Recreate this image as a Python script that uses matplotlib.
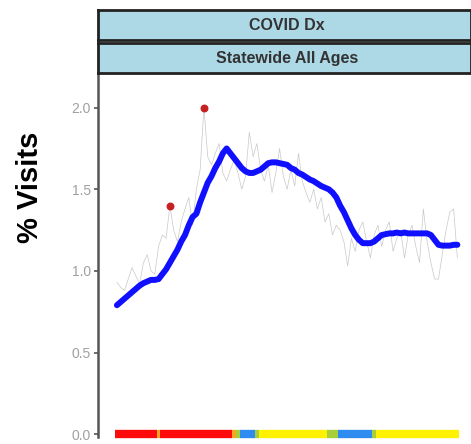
import matplotlib.pyplot as plt
from matplotlib.collections import LineCollection
import numpy as np

plt.rcParams['font.family'] = ['Liberation Sans', 'DejaVu Sans']

# daily share of ED visits with COVID diagnosis (%)
visitas = [0.93, 0.90, 0.88, 0.95, 1.02, 0.97, 0.92, 1.05, 1.10, 1.00,
           0.98, 1.15, 1.22, 1.20, 1.40, 1.25, 1.18, 1.30, 1.38, 1.45,
           1.28, 1.50, 1.62, 2.00, 1.70, 1.65, 1.72, 1.78, 1.60, 1.55,
           1.62, 1.68, 1.60, 1.50, 1.58, 1.85, 1.70, 1.78, 1.62, 1.55,
           1.65, 1.48, 1.60, 1.75, 1.58, 1.50, 1.62, 1.52, 1.72, 1.55,
           1.48, 1.42, 1.50, 1.38, 1.45, 1.30, 1.35, 1.22, 1.28, 1.25,
           1.18, 1.03, 1.20, 1.12, 1.25, 1.30, 1.18, 1.08, 1.22, 1.28,
           1.15, 1.25, 1.30, 1.12, 1.20, 1.25, 1.08, 1.22, 1.28, 1.15,
           1.05, 1.38, 1.18, 1.05, 0.95, 0.95, 1.10, 1.25, 1.36, 1.38,
           1.08]

# smoothed trend
tendencia = [0.79, 0.81, 0.83, 0.85, 0.87, 0.89, 0.91, 0.925, 0.935, 0.945,
             0.945, 0.95, 0.98, 1.01, 1.05, 1.09, 1.13, 1.18, 1.22, 1.28,
             1.33, 1.35, 1.42, 1.48, 1.54, 1.58, 1.63, 1.67, 1.72, 1.75,
             1.72, 1.69, 1.66, 1.63, 1.61, 1.60, 1.60, 1.61, 1.62, 1.64,
             1.66, 1.665, 1.665, 1.66, 1.655, 1.65, 1.63, 1.62, 1.60, 1.59,
             1.575, 1.56, 1.55, 1.535, 1.52, 1.51, 1.50, 1.48, 1.45, 1.40,
             1.36, 1.31, 1.26, 1.22, 1.19, 1.17, 1.17, 1.17, 1.18, 1.20,
             1.22, 1.225, 1.23, 1.23, 1.235, 1.23, 1.235, 1.23, 1.23, 1.23,
             1.23, 1.23, 1.23, 1.22, 1.19, 1.16, 1.155, 1.155, 1.155, 1.16,
             1.16]

# flagged days
alerta_dias = [14, 23]

# status colour per day along the bottom
status = (['red'] * 11 + ['orange'] + ['red'] * 19 + ['orange'] + ['green']
          + ['blue'] * 4 + ['green'] + ['yellow'] * 18 + ['green'] * 3
          + ['blue'] * 9 + ['green'] + ['yellow'] * 22)

cores = {'red': '#FF0A0A', 'orange': '#F5A623', 'yellow': '#FFF200',
         'blue': '#2E8BF0', 'green': '#A8CF3A'}

dias = np.arange(len(visitas))

W, H = 471, 444
fig = plt.figure(figsize=(W / 100, H / 100), dpi=100)

ax = fig.add_axes([98 / W, 0, 1 - 98 / W, (H - 75) / H])
ax.plot(dias, visitas, color='#C8C8C8', linewidth=0.5, zorder=1)
ax.plot(dias, tendencia, color='#1010FF', linewidth=4.3,
        solid_capstyle='round', zorder=2)
ax.scatter([dias[d] for d in alerta_dias], [visitas[d] for d in alerta_dias],
           s=22, color='#C62020', zorder=3)

# status band at y = 0
segs = [[(d - 0.5, 0), (d + 0.5, 0)] for d in dias]
lc = LineCollection(segs, colors=[cores[s] for s in status], linewidths=6,
                    capstyle='butt', zorder=2)
ax.add_collection(lc)

ax.set_xlim(-5.0, 93.6)
ax.set_ylim(-0.06, 2.2)
ax.set_yticks([0.0, 0.5, 1.0, 1.5, 2.0])
ax.set_yticklabels(['0.0', '0.5', '1.0', '1.5', '2.0'])
ax.set_xticks([])
for lado in ['top', 'right', 'bottom']:
    ax.spines[lado].set_visible(False)
ax.spines['left'].set_color('#555555')
ax.spines['left'].set_linewidth(1.8)
ax.spines['left'].set_bounds(-0.02, 2.2)
ax.tick_params(axis='y', colors='#555555', labelcolor='#A0A0A0',
               labelsize=10, length=3, width=1.2, pad=2)

fig.text(30 / W, (H - 187) / H, '% Visits', rotation=90, ha='center',
         va='center', fontsize=21, fontweight='bold')

# facet strips
for topo, texto in [(10, 'COVID Dx'), (43, 'Statewide All Ages')]:
    st = fig.add_axes([98 / W, (H - topo - 30) / H, 1 - 98 / W, 30 / H])
    st.set_facecolor('#ADD8E6')
    st.set_xticks([])
    st.set_yticks([])
    for sp in st.spines.values():
        sp.set_color('#222222')
        sp.set_linewidth(2)
    st.text((287 - 98) / (W - 98), 0.5, texto,
            transform=st.transAxes, ha='center', va='center',
            fontsize=11.5, fontweight='bold', color='#333333')

fig.savefig('out.png', dpi=100)
